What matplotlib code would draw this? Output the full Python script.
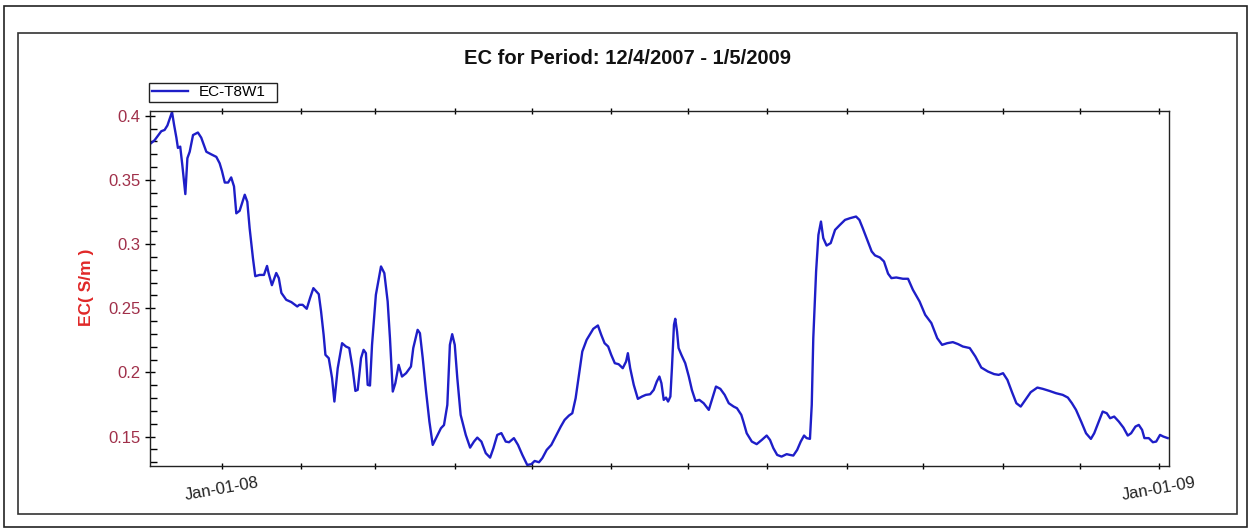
import matplotlib
matplotlib.use('Agg')
import matplotlib.pyplot as plt
import matplotlib.dates as mdates
from matplotlib.patches import Rectangle
from matplotlib.ticker import MultipleLocator, FuncFormatter
import numpy as np
import pandas as pd

plt.rcParams['font.family'] = ['Liberation Sans', 'DejaVu Sans']

# ---------------- data ----------------
start_date = '2007-12-04'
end_offset_days = 397.9
series_name = 'EC-T8W1'
title_text = 'EC for Period: 12/4/2007 - 1/5/2009'
ylabel_text = 'EC( S/m )'

day_offsets = [
    0.0, 1.8, 4.4, 5.7, 6.8, 8.6, 9.4, 10.3, 10.9, 11.8,
    12.6, 13.8, 14.6, 15.5, 16.8, 18.7, 20.0, 22.0, 23.9, 25.9,
    27.2, 28.1, 29.2, 30.5, 31.7, 32.8, 33.7, 35.0, 37.0, 38.0,
    38.9, 40.2, 41.1, 42.8, 44.5, 45.7, 46.3, 47.6, 49.3, 50.3,
    51.3, 53.2, 55.2, 57.5,
    58.3, 59.6, 61.2, 62.5, 63.8, 65.9, 66.8, 67.8, 68.5, 69.8,
    71.1, 72.0, 73.3, 75.0, 76.5, 77.8, 79.1, 80.2, 81.1, 82.4,
    83.4, 84.3, 85.0, 85.9, 86.7, 88.2, 90.2, 91.5, 92.8, 93.7,
    94.8, 95.8, 97.1, 98.4, 100.0, 101.9, 102.8, 104.5, 105.4, 106.5,
    107.8, 109.1, 110.4, 111.7, 113.6,
    114.8, 116.1, 117.1, 118.0, 119.0, 120.0, 121.3, 123.3, 125.0, 126.5,
    127.8, 129.4, 131.1, 132.8, 134.1, 135.6, 137.2, 138.9, 140.2, 142.1,
    143.7, 145.4, 147.3, 148.9, 150.2, 151.9, 153.2, 154.9, 156.7, 158.4,
    160.4, 161.9, 163.6, 164.9, 166.2, 167.5, 168.8, 170.5, 172.1, 173.1,
    174.9, 176.2, 177.5, 178.9, 180.1, 181.5, 183.0, 184.6, 185.9, 186.6,
    187.5, 188.9, 190.5, 192.1, 193.6, 195.3, 196.7, 197.9, 198.9, 199.7,
    200.6, 201.5, 202.3, 203.2, 203.8, 204.6, 205.1, 205.8, 206.4, 207.5,
    209.0, 210.4, 211.6, 213.0, 214.5, 216.2, 218.2, 219.4, 221.0, 222.7,
    224.4, 226.0, 227.9, 229.2, 230.9,
    231.7, 233.0, 235.0, 236.9, 238.9, 240.8, 242.1, 243.4, 244.9, 246.6,
    248.6, 249.9, 251.2, 252.7, 254.1, 255.4, 256.4, 257.7, 258.4, 259.0,
    260.1, 261.0, 262.0, 262.9, 264.2, 265.8, 267.5, 269.4, 271.4, 273.3,
    275.7, 277.0, 278.3, 279.8, 281.8, 283.1, 285.0, 286.6,
    288.2, 289.5, 291.4, 294.0, 296.0, 297.9, 300.5, 302.7, 305.1, 307.4,
    309.3, 311.3, 313.5, 315.5, 317.4, 320.1, 322.3, 324.6, 327.2, 329.6,
    331.4, 333.1, 334.8, 336.6, 338.3, 340.0, 341.8, 343.9, 346.5,
    348.6, 351.2, 353.8, 356.4, 358.4, 360.0, 361.6, 363.6, 365.5, 367.4,
    368.7, 370.5, 372.0, 373.6, 374.9, 376.5, 378.3, 380.1, 381.8, 383.1,
    384.8, 386.1, 387.4, 388.3, 390.0, 391.6, 392.9, 394.4, 395.7, 397.4,
]

ec_values = [
    0.378, 0.381, 0.388, 0.389, 0.3925, 0.403, 0.393, 0.383, 0.375, 0.376,
    0.362, 0.339, 0.367, 0.372, 0.385, 0.387, 0.383, 0.372, 0.370, 0.368,
    0.363, 0.357, 0.348, 0.348, 0.352, 0.345, 0.324, 0.326, 0.3385, 0.333,
    0.3125, 0.289, 0.275, 0.276, 0.276, 0.283, 0.2775, 0.268, 0.2775, 0.2735,
    0.262, 0.2566, 0.2548, 0.2514,
    0.2527, 0.2527, 0.2496, 0.258, 0.2657, 0.261, 0.2475, 0.2293, 0.2137, 0.2111,
    0.1955, 0.1773, 0.2033, 0.2228, 0.2202, 0.219, 0.2033, 0.1856, 0.1864, 0.2111,
    0.2176, 0.215, 0.1903, 0.1898, 0.2215, 0.2605, 0.2826, 0.2774, 0.2553, 0.2267,
    0.1851, 0.1916, 0.2059, 0.1968, 0.1994, 0.2046, 0.219, 0.2332, 0.2306, 0.2111,
    0.1851, 0.1617, 0.1435, 0.1488, 0.1565,
    0.159, 0.1747, 0.2215, 0.2298, 0.2215, 0.1955, 0.1669, 0.1513, 0.1414, 0.1461,
    0.1492, 0.1461, 0.1371, 0.1336, 0.141, 0.1513, 0.1527, 0.1461, 0.1456, 0.1488,
    0.1435, 0.1357, 0.1279, 0.1285, 0.131, 0.130, 0.1332, 0.1396, 0.1435, 0.150,
    0.1578, 0.163, 0.1664, 0.1682, 0.1799, 0.1981, 0.2163, 0.2254, 0.2306, 0.234,
    0.2366, 0.2293, 0.2228, 0.2202, 0.2137, 0.2072, 0.2064, 0.2033, 0.2085, 0.215,
    0.2033, 0.1903, 0.1794, 0.1812, 0.1825, 0.183, 0.1864, 0.1929, 0.1968, 0.1916,
    0.1786, 0.1804, 0.1773, 0.1812, 0.2033, 0.2371, 0.2418, 0.2319, 0.219, 0.2137,
    0.2072, 0.1968, 0.1864, 0.1778, 0.1786, 0.176, 0.1708, 0.1786, 0.189, 0.1872,
    0.1825, 0.176, 0.1734, 0.1721, 0.1669,
    0.1617, 0.1526, 0.1461, 0.1441, 0.1474, 0.1508, 0.1474, 0.141, 0.1357, 0.1344,
    0.1363, 0.1357, 0.1352, 0.1396, 0.1461, 0.1508, 0.1488, 0.1482, 0.1747, 0.2267,
    0.2787, 0.3072, 0.3176, 0.3047, 0.2989, 0.3008, 0.3111, 0.315, 0.3189, 0.3202,
    0.3215, 0.3189, 0.3125, 0.3047, 0.2943, 0.2912, 0.2896, 0.2865,
    0.277, 0.2735, 0.274, 0.273, 0.273, 0.2644, 0.2553, 0.2449, 0.2385, 0.2267,
    0.2215, 0.2228, 0.2236, 0.2221, 0.2202, 0.219, 0.2124, 0.2038, 0.2007, 0.1987,
    0.1981, 0.1994, 0.1942, 0.1846, 0.176, 0.1734, 0.1786, 0.1846, 0.1882,
    0.1872, 0.1856, 0.1838, 0.1825, 0.1804, 0.176, 0.1708, 0.1617, 0.1526, 0.1482,
    0.1526, 0.1617, 0.1695, 0.1682, 0.1643, 0.1656, 0.1617, 0.157, 0.1508, 0.1526,
    0.1578, 0.1591, 0.1552, 0.1488, 0.1488, 0.1456, 0.1461, 0.1513, 0.150, 0.1488,
]

y_limits = (0.1273, 0.404)

# ---------------- figure ----------------
W, H = 1249, 529
fig = plt.figure(figsize=(W / 100, H / 100), dpi=100)
fig.patch.set_facecolor('white')

# frames around the chart
fig.add_artist(Rectangle((4 / W, 1 - 527 / H), (1247 - 4) / W, (527 - 6) / H,
                         transform=fig.transFigure, fill=False, lw=1.2, ec='#222222'))
fig.add_artist(Rectangle((18 / W, 1 - 514 / H), (1237 - 18) / W, (514 - 33) / H,
                         transform=fig.transFigure, fill=False, lw=1.2, ec='#333333'))

ax = fig.add_axes([150 / W, 1 - 465.7 / H, 1019 / W, 355 / H])

t0 = pd.Timestamp(start_date)
dates = t0 + pd.to_timedelta(np.array(day_offsets), unit='D')
line, = ax.plot(dates, ec_values, color='#1e1ec8', lw=1.7, label=series_name)

ax.set_xlim(t0, t0 + pd.Timedelta(days=end_offset_days))
ax.set_ylim(*y_limits)

ax.xaxis.set_major_locator(mdates.MonthLocator())


def fmt_date(x, pos=None):
    d = mdates.num2date(x)
    return d.strftime('%b-%d-%y') if d.month == 1 and d.day == 1 else ''


ax.xaxis.set_major_formatter(FuncFormatter(fmt_date))
ax.yaxis.set_major_locator(MultipleLocator(0.05))
ax.yaxis.set_minor_locator(MultipleLocator(0.01))
ax.yaxis.set_major_formatter(FuncFormatter(lambda v, p: '{:g}'.format(round(v, 3))))

for s in ax.spines.values():
    s.set_linewidth(1.0)
    s.set_color('#222222')

ax.tick_params(axis='y', which='major', direction='inout', length=7, width=1,
               labelsize=12, labelcolor='#a0304a', pad=3.5, right=False)
ax.tick_params(axis='y', which='minor', direction='in', length=5, width=1, right=False)
ax.tick_params(axis='x', which='major', direction='inout', length=5, width=1,
               top=True, labelsize=12, labelcolor='#222222', pad=4)
for lbl in ax.get_xticklabels():
    lbl.set_rotation(10)
    lbl.set_ha('center')

fig.text(627.5 / W, 1 - 64 / H, title_text, ha='center', va='baseline',
         fontsize=14.5, fontweight='bold', color='#111111')
fig.text(87 / W, 1 - 287.5 / H, ylabel_text, rotation=90, ha='center', va='center',
         fontsize=12.5, fontweight='bold', color='#e02828')

leg = fig.legend(handles=[line], labels=[series_name], loc='lower left',
                 bbox_to_anchor=(149.3 / W, 1 - 101.7 / H, 128 / W, 18.7 / H),
                 mode='expand', borderaxespad=0,
                 frameon=True, fancybox=False, edgecolor='#222222', framealpha=1,
                 borderpad=0.15, handlelength=2.4, handletextpad=0.7, fontsize=11)
leg.get_frame().set_linewidth(1.0)

fig.savefig('out.png', dpi=100)
